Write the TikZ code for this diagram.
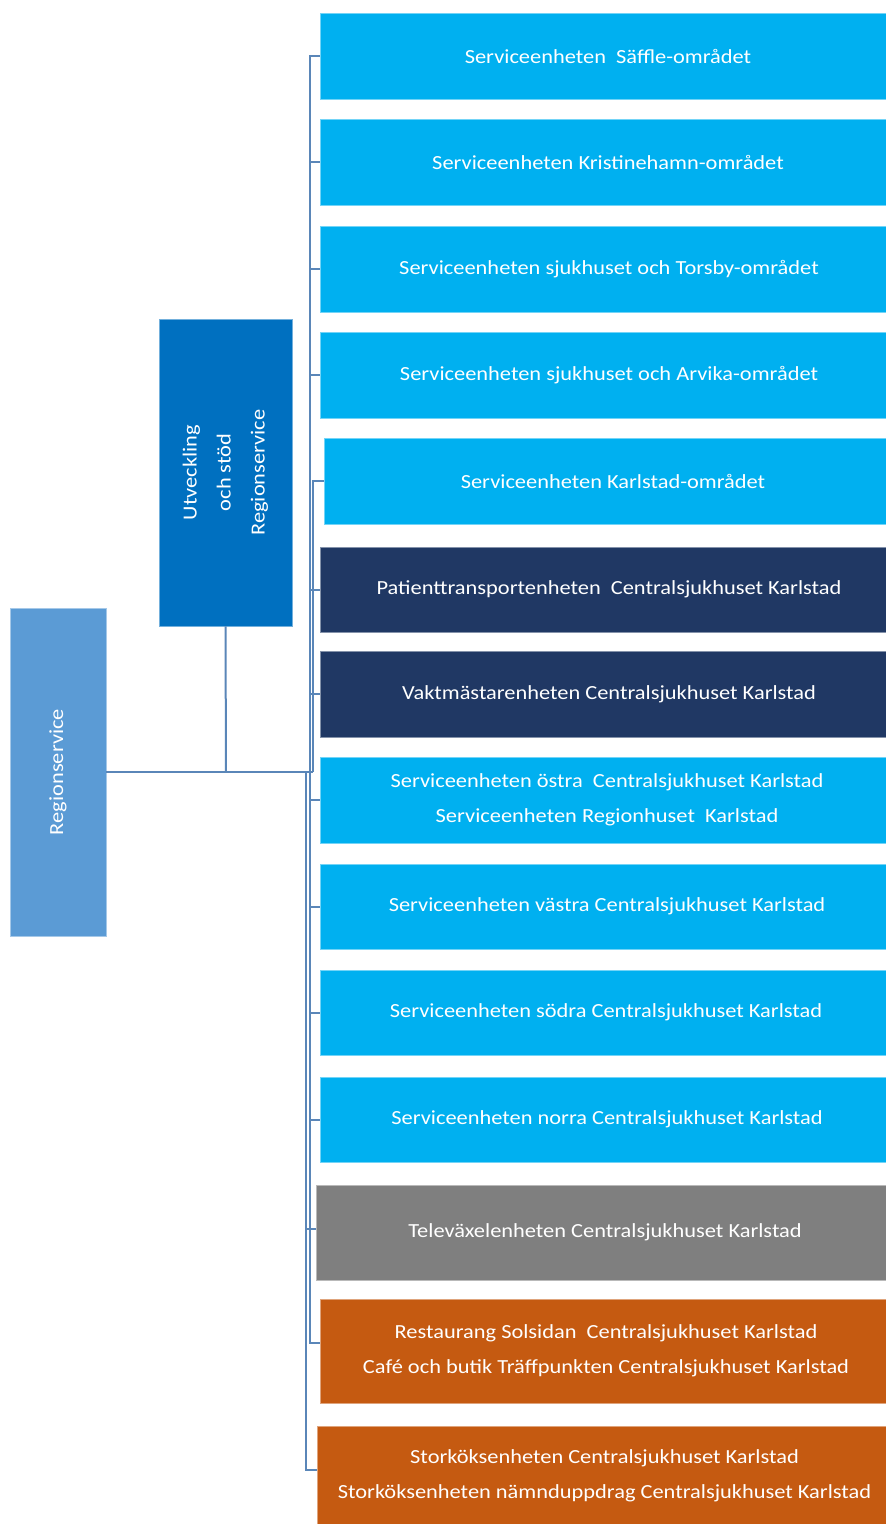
\documentclass[tikz,border=0pt]{standalone}
\usepackage{fontspec}
\setmainfont{Carlito}[FakeStretch=1.12]
\definecolor{lblue}{HTML}{00B0F0}
\definecolor{navy}{HTML}{203864}
\definecolor{grayb}{HTML}{7F7F7F}
\definecolor{orangeb}{HTML}{C55A11}
\definecolor{midblue}{HTML}{0070C0}
\definecolor{rootblue}{HTML}{5B9BD5}
\definecolor{connc}{HTML}{5A86B8}
\begin{document}
\begin{tikzpicture}[x=1pt,y=-1pt,
  box/.style={fill=#1, draw=#1!55!white, line width=0.8pt, inner sep=0pt},
  unit/.style={box=#1, minimum width=566pt, minimum height=86pt},
  utext/.style={text=white, align=center, inner sep=0pt, font=\fontsize{20}{35}\selectfont},
  conn/.style={draw=connc, line width=2pt}
]
\useasboundingbox (0,0) rectangle (886,1524);
% root and staff
\node[box=rootblue, minimum width=96pt, minimum height=328pt] (root) at (58,772) {};
\node[utext, rotate=90] (roott) at (root.center) {Regionservice};
\node[box=midblue, minimum width=133pt, minimum height=307pt] (staff) at (225.5,472.5) {};
\node[utext, rotate=90, font=\fontsize{20}{34}\selectfont] (stafft) at (staff.center) {Utveckling\\och stöd\\Regionservice};
% units
\node[unit=lblue] (b1) at (603,56) {};
\node[unit=lblue] (b2) at (603,162) {};
\node[unit=lblue] (b3) at (603,269) {};
\node[unit=lblue] (b4) at (603,375) {};
\node[unit=lblue, minimum width=562pt] (b5) at (605,481) {};
\node[unit=navy, minimum height=85pt] (b6) at (603,589.5) {};
\node[unit=navy] (b7) at (603,694) {};
\node[unit=lblue] (b8) at (603,800) {};
\node[unit=lblue, minimum height=85pt] (b9) at (603,906.5) {};
\node[unit=lblue, minimum height=85pt] (b10) at (603,1012.5) {};
\node[unit=lblue, minimum height=85pt] (b11) at (603,1119.5) {};
\node[unit=grayb, minimum width=570pt, minimum height=95pt] (b12) at (601,1232.5) {};
\node[unit=orangeb, minimum height=104pt] (b13) at (603,1351) {};
\node[unit=orangeb, minimum width=569pt, minimum height=100pt] (b14) at (601.5,1476) {};
% unit texts
\node[utext] (t1) at ([xshift=5pt]b1.center) {Serviceenheten\ \ Säffle-området};
\node[utext] (t2) at ([xshift=5pt]b2.center) {Serviceenheten Kristinehamn-området};
\node[utext] (t3) at ([xshift=6pt]b3.center) {Serviceenheten sjukhuset och Torsby-området};
\node[utext] (t4) at ([xshift=6pt]b4.center) {Serviceenheten sjukhuset och Arvika-området};
\node[utext] (t5) at ([xshift=8pt]b5.center) {Serviceenheten Karlstad-området};
\node[utext] (t6) at ([xshift=6pt]b6.center) {Patienttransportenheten\ \ Centralsjukhuset Karlstad};
\node[utext] (t7) at ([xshift=6pt]b7.center) {Vaktmästarenheten Centralsjukhuset Karlstad};
\node[utext] (t8) at ([xshift=4pt]b8.center) {Serviceenheten östra\ \ Centralsjukhuset Karlstad\\Serviceenheten Regionhuset\ \ Karlstad};
\node[utext] (t9) at ([xshift=4pt]b9.center) {Serviceenheten västra Centralsjukhuset Karlstad};
\node[utext] (t10) at ([xshift=3pt]b10.center) {Serviceenheten södra Centralsjukhuset Karlstad};
\node[utext] (t11) at ([xshift=4pt]b11.center) {Serviceenheten norra Centralsjukhuset Karlstad};
\node[utext] (t12) at ([xshift=4pt]b12.center) {Televäxelenheten Centralsjukhuset Karlstad};
\node[utext] (t13) at ([xshift=3pt]b13.center) {Restaurang Solsidan\ \ Centralsjukhuset Karlstad\\Café och butik Träffpunkten Centralsjukhuset Karlstad};
\node[utext] (t14) at ([xshift=3pt]b14.center) {Storköksenheten Centralsjukhuset Karlstad\\Storköksenheten nämnduppdrag Centralsjukhuset Karlstad};
% junctions
\coordinate (jm) at (313,772);
\coordinate (ja) at (310,772);
\coordinate (jb) at (306,772);
\coordinate (su) at (226,772);
% connectors
\draw[conn] (root.east) -- (jm);
\draw[conn] (staff.south) -- (su);
\foreach \b in {b1,b2,b3,b4,b6,b7,b8,b9,b10,b11}{\draw[conn] (ja) |- (\b.west);}
\draw[conn] (jm) |- (b5.west);
\draw[conn] (ja) |- ([yshift=8pt]b13.west);
\draw[conn] (jb) |- ([yshift=4pt]b12.west);
\draw[conn] (jb) |- ([yshift=6pt]b14.west);
\end{tikzpicture}
\end{document}
